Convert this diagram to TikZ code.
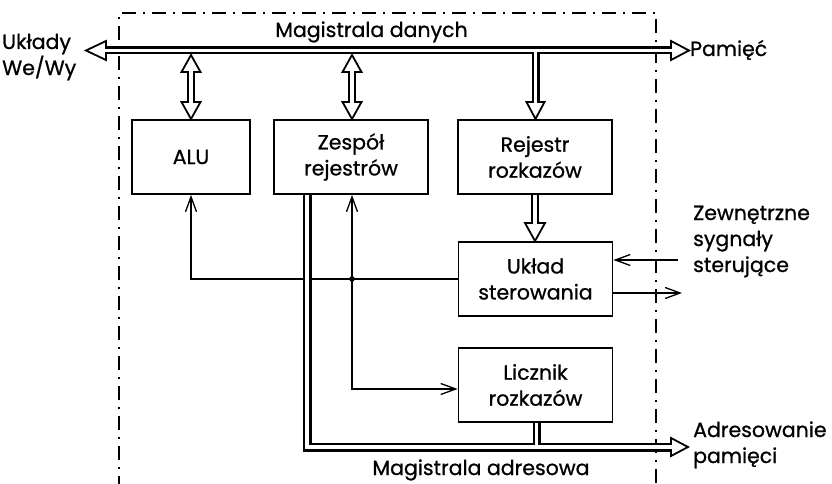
\documentclass[tikz,border=0pt]{standalone}
\usepackage{fontspec}
\setmainfont{Poppins}[FakeBold=0.8]
\usetikzlibrary{arrows.meta,calc}
\newcommand\fs{\fontsize{20.5}{26}\selectfont}
% hollow head: tip, direction angle, length, width
\newcommand\hhead[4]{\draw[headst, shift={#1}, rotate=#2] (0,0) -- (-#3,#4/2) -- (-#3,-#4/2) -- cycle;}
\begin{document}
\begin{tikzpicture}[x=1pt,y=-1pt,
  box/.style={draw, line width=1.8pt, minimum width=154pt, minimum height=74pt, align=center, font=\fs, inner sep=0pt},
  lbl/.style={font=\fs, inner sep=0pt},
  thinln/.style={line width=1.3pt},
  barb/.style={-{Straight Barb[length=15pt,width=11pt,line width=1.3pt]}},
  frame/.style={line width=1.6pt, dash pattern=on 14pt off 7pt on 2pt off 7pt},
  busout/.style={line width=8pt, line join=miter},
  busin/.style={line width=3.6pt, white, line join=miter},
  abusout/.style={line width=9pt, line join=miter},
  abusin/.style={line width=4pt, white, line join=miter},
  headst/.style={draw, fill=white, line width=1.8pt, line join=miter}]
\useasboundingbox (0,0) rectangle (832,484);
% frame
\draw[frame] (119,490) -- (119,13) -- (656,13) -- (656,490);
% boxes
\node[box, minimum width=118pt] (alu) at (191,157) {ALU};
\node[box] (zesp) at (351,157) {Zespół\\rejestrów};
\node[box] (rej) at (535,157) {Rejestr\\rozkazów};
\node[box] (ster) at (535.5,279) {Układ\\sterowania};
\node[box] (licz) at (535.5,385) {Licznik\\rozkazów};
% labels (base anchor = last line's baseline)
\node[lbl, anchor=base] (md) at (371.5,37) {Magistrala danych};
\node[lbl, anchor=base] (ma) at (481,475) {Magistrala adresowa};
\node[lbl, anchor=base west, align=left] (io) at (2,75) {Układy\\We/Wy};
\node[lbl, anchor=base west] (pam) at (690,56) {Pamięć};
\node[lbl, anchor=base west, align=left] (zew) at (693,272) {Zewnętrzne\\sygnały\\sterujące};
\node[lbl, anchor=base west, align=left] (adr) at (693,463) {Adresowanie\\pamięci};
% bus coordinates
\coordinate (dbL) at (86,50.5);
\coordinate (dbR) at (689,50.5);
\coordinate (rjT) at (535.5,50.5);
\coordinate (rjH) at (535.5,119);
\coordinate (aluT) at (191,55);
\coordinate (aluB) at (191,119);
\coordinate (zsT) at (352,55);
\coordinate (zsB) at (352,119);
\coordinate (rsT) at (535,194);
\coordinate (rsB) at (535,241);
\coordinate (abS) at (307,194);
\coordinate (abC) at (307,447);
\coordinate (abE) at (688,447);
\coordinate (lcS) at (536.5,422);
\coordinate (lcE) at (536.5,447);
% control lines
\coordinate (j) at (352,279);
\draw[thinln, barb] (ster.west) -| (alu.south);
\draw[thinln, barb] (j) -- (j |- zesp.south);
\draw[thinln, barb] (j) |- ([yshift=-4pt]licz.west);
\fill (j) circle (2.8);
\coordinate (zin) at (678,260);
\coordinate (zout) at (682,293);
\draw[thinln, barb] (zin) -- (zin -| ster.east);
\draw[thinln, barb] (zout -| ster.east) -- (zout);
% bus outlines
\draw[busout] ($(dbL)+(20,0)$) -- ($(dbR)+(-18,0)$);
\draw[busout] (rjT) -- ($(rjH)+(0,-17)$);
\draw[busout] ($(aluT)+(0,17)$) -- ($(aluB)+(0,-17)$);
\draw[busout] ($(zsT)+(0,17)$) -- ($(zsB)+(0,-17)$);
\draw[busout] (rsT) -- ($(rsB)+(0,-18)$);
\draw[abusout] (abS) -- (abC) -- ($(abE)+(-17,0)$);
\draw[busout] (lcS) -- (lcE);
% heads
\hhead{(dbL)}{180}{20}{19}
\hhead{(dbR)}{0}{18}{19}
\hhead{(rjH)}{270}{17}{18}
\hhead{(aluT)}{90}{17}{19}
\hhead{(aluB)}{270}{17}{19}
\hhead{(zsT)}{90}{17}{19}
\hhead{(zsB)}{270}{17}{19}
\hhead{(rsB)}{270}{18}{20}
\hhead{(abE)}{0}{17}{18}
% bus interiors
\draw[busin] ($(dbL)+(18,0)$) -- ($(dbR)+(-16,0)$);
\draw[busin] (rjT) -- ($(rjH)+(0,-15)$);
\draw[busin] ($(aluT)+(0,15)$) -- ($(aluB)+(0,-15)$);
\draw[busin] ($(zsT)+(0,15)$) -- ($(zsB)+(0,-15)$);
\draw[busin] ($(rsT)+(0,1)$) -- ($(rsB)+(0,-16)$);
\draw[abusin] ($(abS)+(0,1)$) -- (abC) -- ($(abE)+(-15,0)$);
\draw[busin] ($(lcS)+(0,1)$) -- (lcE);
\end{tikzpicture}
\end{document}
